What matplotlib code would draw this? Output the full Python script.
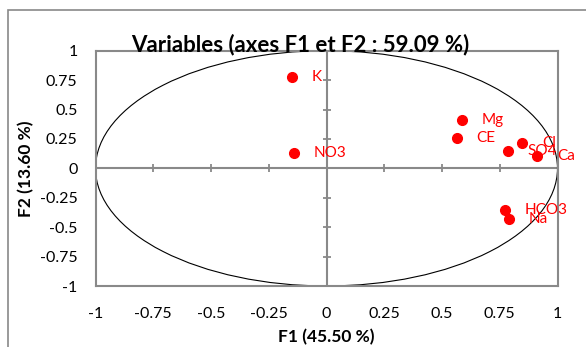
import matplotlib as mpl
mpl.use('Agg')
import matplotlib.pyplot as plt
from matplotlib.patches import Ellipse, Rectangle
import numpy as np

plt.rcParams['font.family'] = ['Lato', 'DejaVu Sans']

# variable coordinates on F1 / F2
names = ['K', 'NO3', 'Mg', 'CE', 'SO4', 'Cl', 'Ca', 'HCO3', 'Na']
f1 = [-0.149, -0.141, 0.588, 0.564, 0.784, 0.848, 0.913, 0.773, 0.791]
f2 = [0.776, 0.130, 0.410, 0.255, 0.147, 0.212, 0.105, -0.354, -0.433]
ticks = [-1, -0.75, -0.5, -0.25, 0, 0.25, 0.5, 0.75, 1]
tick_labels = ['-1', '-0.75', '-0.5', '-0.25', '0', '0.25', '0.5', '0.75', '1']

fig = plt.figure(figsize=(5.86, 3.47), dpi=100)
ax = fig.add_axes([95.5 / 586, 1 - 286 / 347, 462 / 586, 235.3 / 347])

gray = '#898989'
# chart area border (cut off at right / bottom like the source)
fig.patches.append(Rectangle((8 / 586, -0.2), 1.2, 1.2 - 10 / 347,
                             transform=fig.transFigure, fill=False,
                             edgecolor=gray, lw=1.2))

ax.set_xlim(-1, 1)
ax.set_ylim(-1, 1)
for s in ax.spines.values():
    s.set_color(gray)
    s.set_linewidth(1.5)

ax.set_xticks(ticks)
ax.set_xticklabels(tick_labels)
ax.set_yticks(ticks)
ax.set_yticklabels(tick_labels)
ax.tick_params(axis='both', length=0, labelsize=11.5)
ax.tick_params(axis='x', pad=15)
ax.tick_params(axis='y', pad=13)

# axes through origin with small cross ticks
ax.axhline(0, color=gray, lw=1.5, zorder=1)
ax.axvline(0, color=gray, lw=1.5, zorder=1)
ax.plot(ticks, [0] * len(ticks), ls='none', marker='|', ms=6, mew=1.3, color=gray, zorder=1)
ax.plot([0] * len(ticks), ticks, ls='none', marker='_', ms=6, mew=1.3, color=gray, zorder=1)

ax.add_patch(Ellipse((0, 0), 2, 2, fill=False, edgecolor='black', lw=0.8, zorder=2))

ax.plot(f1, f2, ls='none', marker='o', ms=7, color='red', zorder=3)
for n, x, y in zip(names, f1, f2):
    ax.annotate(n, (x, y), xytext=(14, 0), textcoords='offset points',
                color='red', fontsize=11, va='center', ha='left', zorder=4,
                annotation_clip=False)

ax.set_xlabel('F1 (45.50 %)', fontsize=12.5, fontweight='bold', labelpad=6)
ax.set_ylabel('F2 (13.60 %)', fontsize=12.5, fontweight='bold', labelpad=4)
fig.text(300 / 586, 1 - 45 / 347, 'Variables (axes F1 et F2 : 59.09 %)',
         fontsize=16, fontweight='bold', ha='center', va='center')

fig.savefig('out.png', dpi=100)
